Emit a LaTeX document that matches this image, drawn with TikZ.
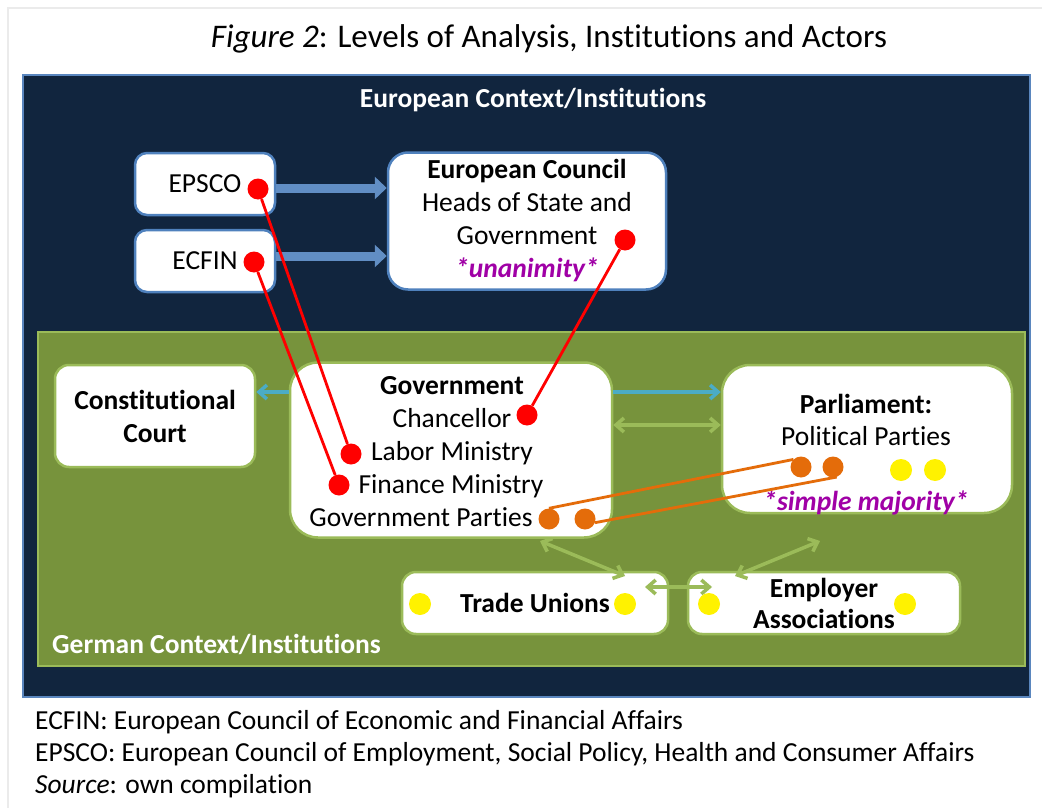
\documentclass[tikz,border=0pt]{standalone}
\usepackage{fontspec}
\setmainfont{Carlito}[Ligatures=NoCommon]
\usetikzlibrary{arrows.meta}

\definecolor{navy}{HTML}{11253E}
\definecolor{navyline}{HTML}{5A86BE}
\definecolor{olive}{HTML}{77933C}
\definecolor{lightolive}{HTML}{9BBB59}
\definecolor{euline}{HTML}{4F81BD}
\definecolor{aqua}{HTML}{4BACC6}
\definecolor{majority}{HTML}{A000A6}
\definecolor{partyorange}{HTML}{E46C0A}

\tikzset{
  txt/.style={anchor=base, inner sep=0pt},
  heading/.style={anchor=base, inner sep=0pt, text=white, font=\fontsize{27.5}{32}\selectfont\bfseries},
  eubox/.style={draw=euline, line width=2.5pt, fill=white, rounded corners=12pt, inner sep=2pt},
  debox/.style={draw=lightolive, line width=2.5pt, fill=white, rounded corners=14pt, inner sep=2pt},
  reddot/.style={circle, fill=red, minimum size=21pt, inner sep=0pt},
  orangedot/.style={circle, fill=partyorange, minimum size=21pt, inner sep=0pt},
  yellowdot/.style={circle, fill=yellow, minimum size=22pt, inner sep=0pt},
  redline/.style={red, line width=2.8pt},
  orangeline/.style={partyorange, line width=2.8pt},
  fatarrow/.style={-{Triangle[length=12pt,width=22pt]}, euline!90!white, line width=9pt},
  aquaarrow/.style={-{Straight Barb[length=8pt,width=14pt]}, aqua, line width=3.5pt},
  greenarrow/.style={{Straight Barb[length=8pt,width=14pt]}-{Straight Barb[length=8pt,width=14pt]}, lightolive, line width=3.5pt}
}

\begin{document}
\begin{tikzpicture}[x=1pt,y=-1pt,font=\fontsize{27.5}{32}\selectfont]
  \useasboundingbox[fill=white] (0,0) rectangle (1042,808);
  \draw[black!8, line width=1.5pt] (8,808) -- (8,8) -- (1042,8);
  %% Title
  \node[txt, font=\fontsize{33}{38}\selectfont] (title) at (549,48) {\textit{Figure 2}: Levels of Analysis, Institutions and Actors};
  %% Context frames
  \draw[navyline, fill=navy, line width=1.5pt] (23,75) rectangle (1030,697);
  \node[heading] (eutitle) at (533,107) {European Context/Institutions};
  \draw[lightolive, fill=olive, line width=2.5pt] (38,332) rectangle (1025,666);
  \node[heading, anchor=base west] (detitle) at (52,653) {German Context/Institutions};
  %% European boxes
  \node[eubox, minimum width=140pt, minimum height=62pt] (epsco) at (205,184) {EPSCO};
  \node[eubox, minimum width=140pt, minimum height=62pt] (ecfin) at (205,261) {ECFIN};
  \node[eubox, rounded corners=20pt, minimum width=278pt, minimum height=137pt, align=center,
        font=\fontsize{27.5}{33}\selectfont] (council) at (527,221)
    {\textbf{European Council}\\Heads of State and\\Government\\\textcolor{majority}{\bfseries\itshape *unanimity*}};
  %% German boxes
  \node[debox, minimum width=200pt, minimum height=102pt, align=center,
        font=\fontsize{27.5}{33}\selectfont\bfseries] (court) at (155,416) {Constitutional\\Court};
  \node[debox, rounded corners=28pt, minimum width=322pt, minimum height=175pt] (gov) at (451,450) {};
  \node[debox, rounded corners=28pt, minimum width=290pt, minimum height=148pt] (parl) at (867,439) {};
  \node[debox, minimum width=266pt, minimum height=62pt, font=\fontsize{27.5}{32}\selectfont\bfseries] (unions) at (535,603) {Trade Unions};
  \node[debox, minimum width=272pt, minimum height=62pt, align=center,
        font=\fontsize{27.5}{31}\selectfont\bfseries] (employers) at (824,603) {Employer\\Associations};
  %% Government lines
  \node[txt] (govhead) at (452,394) {\textbf{Government}};
  \node[txt] (chancellor) at (452,427) {Chancellor};
  \node[txt] (labor) at (452,460) {Labor Ministry};
  \node[txt] (finance) at (451,493) {Finance Ministry};
  \node[txt] (govparties) at (421,526) {Government Parties};
  %% Parliament lines
  \node[txt] (parlhead) at (866,413) {\textbf{Parliament:}};
  \node[txt] (polparties) at (866,445) {Political Parties};
  \node[txt, text=majority, font=\fontsize{27.5}{32}\selectfont\bfseries\itshape] (simple) at (866,510) {*simple majority*};
  %% Council arrows
  \coordinate (row1) at (0,188);
  \coordinate (row2) at (0,256);
  \draw[fatarrow] (epsco.east |- row1) -- (council.west |- row1);
  \draw[fatarrow] (ecfin.east |- row2) -- (council.west |- row2);
  %% Government arrows
  \coordinate (row3) at (0,392);
  \coordinate (row4) at (0,425);
  \draw[aquaarrow] (gov.west |- row3) -- (court.east |- row3);
  \draw[aquaarrow] (gov.east |- row3) -- (parl.west |- row3);
  \draw[greenarrow] (gov.east |- row4) -- (parl.west |- row4);
  %% Social partners
  \coordinate (g1) at (540,541);
  \coordinate (g2) at (625,576);
  \coordinate (g3) at (820,541);
  \coordinate (g4) at (735,576);
  \coordinate (g5) at (645,587);
  \coordinate (g6) at (712,587);
  \draw[greenarrow] (g1) -- (g2);
  \draw[greenarrow] (g3) -- (g4);
  \draw[greenarrow] (g5) -- (g6);
  %% Dots
  \node[reddot] (d1) at (258,189) {};
  \node[reddot] (d2) at (254,262) {};
  \node[reddot] (d3) at (625,240) {};
  \node[reddot] (d4) at (527,415) {};
  \node[reddot] (d5) at (351,454) {};
  \node[reddot] (d6) at (339,485) {};
  \node[orangedot] (o1) at (549,519) {};
  \node[orangedot] (o2) at (585,519) {};
  \node[orangedot] (o3) at (801,467) {};
  \node[orangedot] (o4) at (833,467) {};
  \node[yellowdot] (y1) at (901,470) {};
  \node[yellowdot] (y2) at (935,470) {};
  \node[yellowdot] (y3) at (420,604) {};
  \node[yellowdot] (y4) at (625,604) {};
  \node[yellowdot] (y5) at (709,604) {};
  \node[yellowdot] (y6) at (905,604) {};
  %% Links
  \draw[redline] (d1) -- (d5);
  \draw[redline] (d2) -- (d6);
  \draw[redline] (d3) -- (d4);
  \draw[orangeline] (o1.north) -- (o3.north west);
  \draw[orangeline] (o2.-20) -- (o4.-70);
  %% Notes
  \node[txt, anchor=base west] (note1) at (35,729) {ECFIN: European Council of Economic and Financial Affairs};
  \node[txt, anchor=base west] (note2) at (35,761) {EPSCO: European Council of Employment, Social Policy, Health and Consumer Affairs};
  \node[txt, anchor=base west] (note3) at (35,793) {\textit{Source}: own compilation};
\end{tikzpicture}
\end{document}
